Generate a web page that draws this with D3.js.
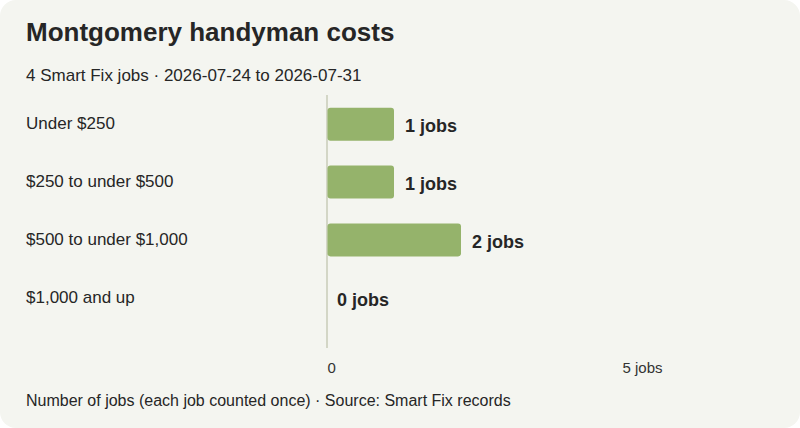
<script src="https://d3js.org/d3.v7.min.js"></script>
<style>
body { margin: 0; background: #ffffff; font-family: 'Liberation Sans', Arial, sans-serif; }
svg { display: block; }
</style>
<svg id="chart" width="800" height="428"></svg>
<script>
// chart data
const categories = ["Under $250", "$250 to under $500", "$500 to under $1,000", "$1,000 and up"];
const jobCounts = [1, 1, 2, 0];
const tickValues = [0, 5];
const tickLabels = ["0", "5 jobs"];

const W = 800, H = 428;
const svg = d3.select("#chart");

svg.append("rect")
    .attr("x", 0).attr("y", 0)
    .attr("width", W).attr("height", H)
    .attr("rx", 16)
    .attr("fill", "#f4f5f0");

svg.append("text")
    .attr("x", 26).attr("y", 41)
    .attr("font-size", 26).attr("font-weight", "bold")
    .attr("fill", "#262626")
    .text("Montgomery handyman costs");

svg.append("text")
    .attr("x", 26).attr("y", 81)
    .attr("font-size", 17).attr("fill", "#262626")
    .text("4 Smart Fix jobs · 2026-07-24 to 2026-07-31");

const x = d3.scaleLinear().domain([0, 5]).range([327, 662]);
const y = d3.scaleBand().domain(categories).range([95, 327]).paddingInner(0.43).paddingOuter(0.22);

// baseline
svg.append("line")
    .attr("x1", x(0)).attr("x2", x(0))
    .attr("y1", 95).attr("y2", 348)
    .attr("stroke", "#c8cbb9").attr("stroke-width", 1.5);

const rows = categories.map((c, i) => ({ cat: c, val: jobCounts[i] }));

svg.selectAll(".cat")
    .data(rows).enter().append("text")
    .attr("x", 26)
    .attr("y", d => y(d.cat) + y.bandwidth() / 2)
    .attr("dy", "0.3em")
    .attr("font-size", 17).attr("fill", "#262626")
    .text(d => d.cat);

svg.selectAll(".bar")
    .data(rows.filter(d => d.val > 0)).enter().append("rect")
    .attr("x", x(0) + 0.5)
    .attr("y", d => y(d.cat))
    .attr("width", d => x(d.val) - x(0) - 0.5)
    .attr("height", y.bandwidth())
    .attr("rx", 3)
    .attr("fill", "#95b36b");

svg.selectAll(".val")
    .data(rows).enter().append("text")
    .attr("x", d => x(d.val) + (d.val > 0 ? 11 : 10))
    .attr("y", d => y(d.cat) + y.bandwidth() / 2)
    .attr("dy", "0.45em")
    .attr("font-size", 18).attr("font-weight", "bold")
    .attr("fill", "#262626")
    .text(d => d.val + " jobs");

const axis = svg.append("g")
    .attr("transform", "translate(0,368)")
    .call(d3.axisBottom(x).tickValues(tickValues).tickSize(0).tickFormat((d, i) => tickLabels[i]));
axis.select(".domain").remove();
axis.selectAll("text")
    .attr("font-size", 15).attr("fill", "#333")
    .attr("font-family", "'Liberation Sans', Arial, sans-serif")
    .attr("text-anchor", (d, i) => i === 0 ? "start" : "end")
    .attr("y", 0).attr("dy", "0.35em");

svg.append("text")
    .attr("x", 26).attr("y", 406)
    .attr("font-size", 16).attr("fill", "#262626")
    .text("Number of jobs (each job counted once) · Source: Smart Fix records");
</script>
